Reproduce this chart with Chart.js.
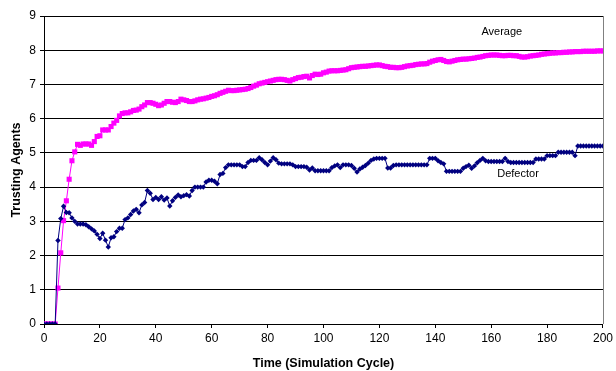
<!DOCTYPE html>
<html>
<head>
<meta charset="utf-8">
<script src="https://cdn.jsdelivr.net/npm/chart.js@4/dist/chart.umd.min.js"></script>
<style>
html,body{margin:0;padding:0;background:#fff;}
#wrap{width:616px;height:371px;}
</style>
</head>
<body>
<div id="wrap"><canvas id="c" width="616" height="371"></canvas></div>
<script>
// Simulation cycles 0..200
const cycles = Array.from({length: 201}, (_, i) => i);
const xTicks = [0, 20, 40, 60, 80, 100, 120, 140, 160, 180, 200];
const yTicks = [0, 1, 2, 3, 4, 5, 6, 7, 8, 9];
const seriesNames = ["Average", "Defector"];

const average = [
  0, 0, 0, 0, 0, 1.05, 2.08, 3.02, 3.6, 4.23,
  4.77, 5.03, 5.25, 5.22, 5.26, 5.26, 5.26, 5.22, 5.33, 5.48,
  5.5, 5.67, 5.67, 5.67, 5.77, 5.87, 5.95, 6.08, 6.15, 6.17,
  6.17, 6.2, 6.24, 6.25, 6.28, 6.35, 6.4, 6.47, 6.47, 6.45,
  6.42, 6.38, 6.4, 6.45, 6.5, 6.5, 6.48, 6.47, 6.5, 6.57,
  6.55, 6.53, 6.5, 6.5, 6.52, 6.55, 6.57, 6.58, 6.6, 6.62,
  6.65, 6.67, 6.7, 6.74, 6.77, 6.8, 6.83, 6.82, 6.82, 6.83,
  6.84, 6.85, 6.86, 6.88, 6.91, 6.95, 6.98, 7.02, 7.04, 7.06,
  7.08, 7.1, 7.12, 7.14, 7.15, 7.15, 7.14, 7.12, 7.1, 7.14,
  7.17, 7.2, 7.21, 7.23, 7.24, 7.19, 7.26, 7.3, 7.29, 7.3,
  7.34, 7.36, 7.39, 7.4, 7.4, 7.4, 7.41, 7.42, 7.43, 7.46,
  7.49, 7.5, 7.51, 7.52, 7.53, 7.53, 7.54, 7.55, 7.56, 7.57,
  7.57, 7.55, 7.53, 7.52, 7.5, 7.5, 7.49, 7.49, 7.5, 7.52,
  7.54, 7.55, 7.56, 7.58, 7.59, 7.6, 7.6, 7.61, 7.65, 7.68,
  7.7, 7.72, 7.73, 7.7, 7.67, 7.66, 7.68, 7.7, 7.72, 7.73,
  7.74, 7.74, 7.75, 7.76, 7.77, 7.79, 7.8, 7.82, 7.84, 7.85,
  7.86, 7.86, 7.86, 7.85, 7.84, 7.84, 7.85, 7.85, 7.84, 7.84,
  7.82, 7.8, 7.8, 7.81, 7.83, 7.84, 7.85, 7.86, 7.88, 7.89,
  7.9, 7.91, 7.92, 7.92, 7.93, 7.93, 7.94, 7.94, 7.95, 7.95,
  7.96, 7.96, 7.96, 7.97, 7.97, 7.97, 7.97, 7.97, 7.98, 7.98,
  7.98
];

const defector = [
  0, 0, 0, 0, 0, 2.44, 3.08, 3.44, 3.26, 3.25,
  3.1, 3.0, 2.92, 2.92, 2.92, 2.9, 2.84, 2.78, 2.72, 2.62,
  2.5, 2.65, 2.45, 2.25, 2.52, 2.55, 2.7, 2.8, 2.8, 3.05,
  3.1, 3.2, 3.3, 3.35, 3.25, 3.48, 3.55, 3.9, 3.82, 3.64,
  3.7, 3.64, 3.72, 3.62, 3.68, 3.45, 3.6, 3.7, 3.77, 3.72,
  3.75, 3.78, 3.74, 3.9, 4.0, 4.0, 4.0, 4.0, 4.15, 4.2,
  4.2, 4.17, 4.1, 4.37, 4.4, 4.57, 4.65, 4.65, 4.65, 4.65,
  4.65, 4.6, 4.6, 4.72, 4.78, 4.78, 4.78, 4.86, 4.8, 4.72,
  4.65, 4.76, 4.86, 4.8, 4.7, 4.68, 4.68, 4.68, 4.68, 4.65,
  4.6, 4.6, 4.6, 4.6, 4.58, 4.5, 4.56, 4.48, 4.48, 4.48,
  4.48, 4.48, 4.48, 4.57, 4.62, 4.65, 4.57, 4.65, 4.65, 4.65,
  4.63, 4.55, 4.44, 4.53, 4.58, 4.63, 4.7, 4.78, 4.82, 4.84,
  4.84, 4.84, 4.84, 4.56, 4.56, 4.63, 4.65, 4.65, 4.65, 4.65,
  4.65, 4.65, 4.65, 4.65, 4.65, 4.65, 4.65, 4.65, 4.84, 4.84,
  4.84, 4.77, 4.72, 4.68, 4.46, 4.46, 4.46, 4.46, 4.46, 4.46,
  4.55, 4.6, 4.64, 4.55, 4.62, 4.71, 4.78, 4.84, 4.77, 4.75,
  4.75, 4.75, 4.75, 4.75, 4.75, 4.84, 4.75, 4.72, 4.72, 4.72,
  4.72, 4.72, 4.72, 4.72, 4.72, 4.72, 4.82, 4.82, 4.82, 4.82,
  4.92, 4.92, 4.92, 4.92, 5.02, 5.02, 5.02, 5.02, 5.02, 5.02,
  4.92, 5.2, 5.2, 5.2, 5.2, 5.2, 5.2, 5.2, 5.2, 5.2,
  5.2
];

const toPoints = vals => cycles.map((c, i) => ({x: c, y: vals[i]}));

const FONT = "'Liberation Sans', Arial, sans-serif";

const labelsPlugin = {
  id: 'seriesLabels',
  afterDatasetsDraw(chart) {
    const {ctx, scales: {x, y}, chartArea} = chart;
    ctx.save();
    // right border of plot area
    ctx.strokeStyle = '#808080';
    ctx.lineWidth = 1;
    ctx.beginPath();
    ctx.moveTo(Math.round(chartArea.right) + 0.5, chartArea.top);
    ctx.lineTo(Math.round(chartArea.right) + 0.5, chartArea.bottom);
    ctx.stroke();
    ctx.fillStyle = '#000';
    ctx.font = '11px ' + FONT;
    ctx.textAlign = 'center';
    ctx.textBaseline = 'middle';
    ctx.fillText(seriesNames[0], x.getPixelForValue(163.8), y.getPixelForValue(8.53));
    ctx.fillText(seriesNames[1], x.getPixelForValue(169.6), y.getPixelForValue(4.37));
    ctx.restore();
  }
};

new Chart(document.getElementById('c'), {
  type: 'line',
  data: {
    datasets: [
      {
        label: seriesNames[1],
        data: toPoints(defector),
        borderColor: '#000080',
        backgroundColor: '#000080',
        borderWidth: 1,
        pointStyle: 'rectRot',
        pointRadius: 2.7,
        pointBorderWidth: 0,
        tension: 0
      },
      {
        label: seriesNames[0],
        data: toPoints(average),
        borderColor: '#FF00FF',
        backgroundColor: '#FF00FF',
        borderWidth: 1,
        pointStyle: 'rect',
        pointRadius: 3.6,
        pointBorderWidth: 0,
        tension: 0
      }
    ]
  },
  plugins: [labelsPlugin],
  options: {
    responsive: false,
    animation: false,
    devicePixelRatio: 1,
    layout: {padding: {top: 16, right: 12, left: 0, bottom: 0}},
    plugins: {legend: {display: false}, tooltip: {enabled: false}},
    scales: {
      x: {
        type: 'linear',
        min: 0, max: 200,
        afterBuildTicks: s => { s.ticks = xTicks.map(v => ({value: v})); },
        afterFit: s => { s.height = 47; },
        grid: {drawOnChartArea: false, drawTicks: true, tickLength: 4, color: '#000'},
        border: {color: '#000', width: 1},
        ticks: {color: '#000', font: {family: FONT, size: 12}, padding: 3, maxRotation: 0},
        title: {display: true, text: 'Time (Simulation Cycle)', color: '#000',
                font: {family: FONT, size: 12.5, weight: 'bold'}, padding: {top: 8, bottom: 0}}
      },
      y: {
        type: 'linear',
        min: 0, max: 9,
        afterBuildTicks: s => { s.ticks = yTicks.map(v => ({value: v})); },
        afterFit: s => { s.width = 44; },
        grid: {color: '#000', tickLength: 4, lineWidth: 1},
        border: {color: '#000', width: 1},
        ticks: {color: '#000', font: {family: FONT, size: 12}, padding: 4},
        title: {display: true, text: 'Trusting Agents', color: '#000',
                font: {family: FONT, size: 12.5, weight: 'bold'}, padding: {top: 9, bottom: 0}}
      }
    }
  }
});
</script>
</body>
</html>
